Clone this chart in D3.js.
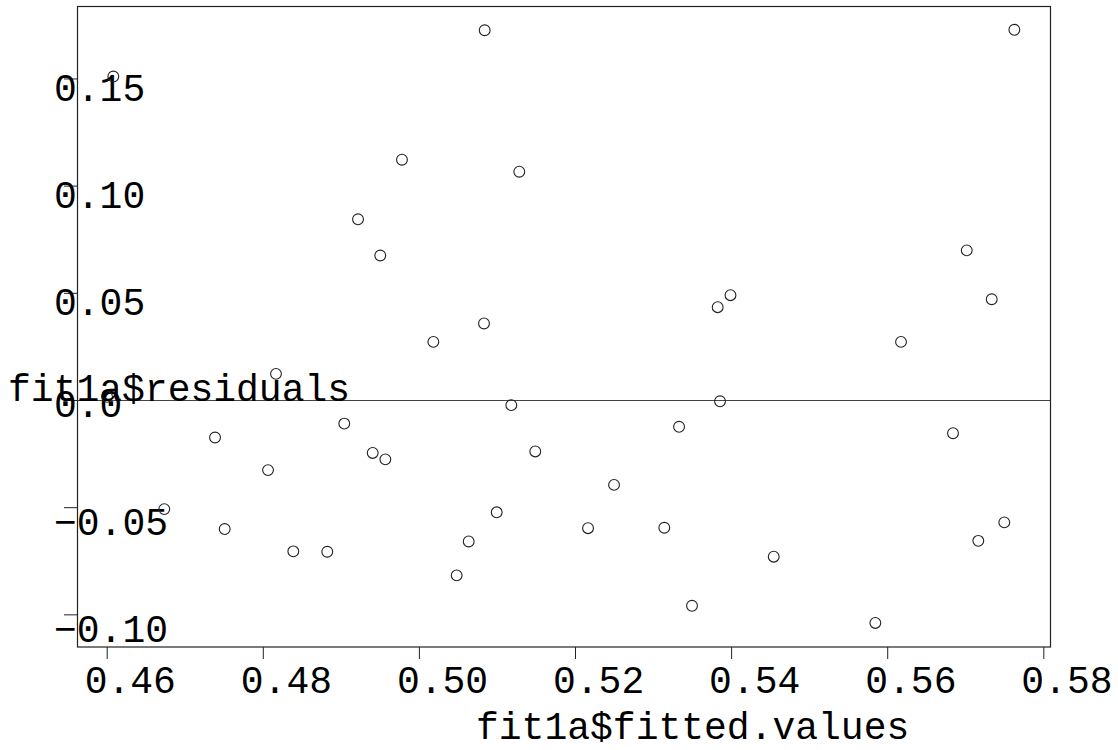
<!DOCTYPE html>
<html>
<head>
<meta charset="utf-8">
<script src="https://cdn.jsdelivr.net/npm/d3@7"></script>
<style>
  html, body { margin: 0; padding: 0; background: #fff; }
  svg { display: block; }
  text { font-family: "Liberation Mono", "Courier New", monospace; fill: #000; }
</style>
</head>
<body>
<svg id="chart" width="1118" height="750"></svg>
<script>
// ---- data ----
const fittedValues = [
  0.46085, 0.49783, 0.49220, 0.49505, 0.50843, 0.51286, 0.53828, 0.53992, 0.50834,
  0.57629, 0.57019, 0.57339, 0.48169, 0.46004, 0.47388, 0.48067, 0.49044, 0.49408,
  0.49570, 0.46738, 0.47512, 0.48391, 0.48826, 0.50185, 0.51184, 0.53858, 0.53333,
  0.51491, 0.52500, 0.50997, 0.52167, 0.53144, 0.50638, 0.50484, 0.53499, 0.56177,
  0.56843, 0.57500, 0.57167, 0.54546, 0.55848
];
const residuals = [
  0.1509, 0.1121, 0.0843, 0.0674, 0.1725, 0.1065, 0.0433, 0.0489, 0.0357,
  0.1727, 0.0698, 0.0470, 0.0122, 0.0015, -0.0175, -0.0327, -0.0110, -0.0247,
  -0.0277, -0.0509, -0.0602, -0.0706, -0.0708, 0.0271, -0.0024, -0.0006, -0.0125,
  -0.0240, -0.0396, -0.0524, -0.0598, -0.0596, -0.0660, -0.0818, -0.0960, 0.0271,
  -0.0155, -0.0571, -0.0657, -0.0731, -0.1040
];
const xTickValues = [0.46, 0.48, 0.50, 0.52, 0.54, 0.56, 0.58];
const xTickLabels = ["0.46", "0.48", "0.50", "0.52", "0.54", "0.56", "0.58"];
const yTickValues = [-0.10, -0.05, 0.0, 0.05, 0.10, 0.15];
const yTickLabels = ["\u22120.10", "\u22120.05", "0.0", "0.05", "0.10", "0.15"];
const xTitle = "fit1a$fitted.values";
const yTitle = "fit1a$residuals";

// ---- layout ----
const box = { left: 77.5, right: 1050.5, top: 6.5, bottom: 647 };
const svg = d3.select("#chart");
const fontSize = 38;

const x = d3.scaleLinear().domain([0.45626, 0.58092]).range([box.left, box.right]);
const y = d3.scaleLinear().domain([-0.11523, 0.18357]).range([box.bottom, box.top]);

// zero reference line
svg.append("line")
  .attr("x1", box.left).attr("x2", box.right)
  .attr("y1", Math.round(y(0)) + 0.5).attr("y2", Math.round(y(0)) + 0.5)
  .attr("stroke", "#444").attr("stroke-width", 1.2);

// x axis
const xAxis = d3.axisBottom(x)
  .tickValues(xTickValues)
  .tickFormat((d, i) => xTickLabels[i])
  .tickSize(12)
  .tickSizeOuter(0);
const gx = svg.append("g").attr("transform", `translate(0,${box.bottom})`).call(xAxis);
gx.select(".domain").remove();
gx.selectAll(".tick line").attr("stroke", "#222");
gx.selectAll(".tick text")
  .attr("text-anchor", "start")
  .attr("x", -22.5).attr("y", 46.3).attr("dy", 0)
  .style("font-family", '"Liberation Mono", monospace')
  .style("font-size", fontSize + "px").attr("fill", "#000");

// y axis
const yAxis = d3.axisLeft(y)
  .tickValues(yTickValues)
  .tickFormat((d, i) => yTickLabels[i])
  .tickSize(13.5)
  .tickSizeOuter(0);
const gy = svg.append("g").attr("transform", `translate(${box.left},0)`).call(yAxis);
gy.select(".domain").remove();
gy.selectAll(".tick line").attr("stroke", "#222");
gy.selectAll(".tick text")
  .attr("text-anchor", "start")
  .attr("x", 54 - box.left)
  .attr("y", (d, i) => 5.5 * yTickLabels[i].length)
  .attr("dy", 0)
  .style("font-family", '"Liberation Mono", monospace')
  .style("font-size", fontSize + "px").attr("fill", "#000");

// plot box
svg.append("rect")
  .attr("x", box.left).attr("y", box.top)
  .attr("width", box.right - box.left).attr("height", box.bottom - box.top)
  .attr("fill", "none").attr("stroke", "#222").attr("stroke-width", 1.2);

// points
svg.append("g").selectAll("circle")
  .data(fittedValues.map((v, i) => [v, residuals[i]]))
  .join("circle")
  .attr("cx", d => x(d[0]))
  .attr("cy", d => y(d[1]))
  .attr("r", 5.4)
  .attr("fill", "none")
  .attr("stroke", "#222")
  .attr("stroke-width", 1.1);

// axis titles
svg.append("text")
  .attr("x", 476).attr("y", 739)
  .attr("text-anchor", "start")
  .style("font-size", fontSize + "px")
  .text(xTitle);
svg.append("text")
  .attr("x", 8).attr("y", 401)
  .attr("text-anchor", "start")
  .style("font-size", fontSize + "px")
  .text(yTitle);
</script>
</body>
</html>
